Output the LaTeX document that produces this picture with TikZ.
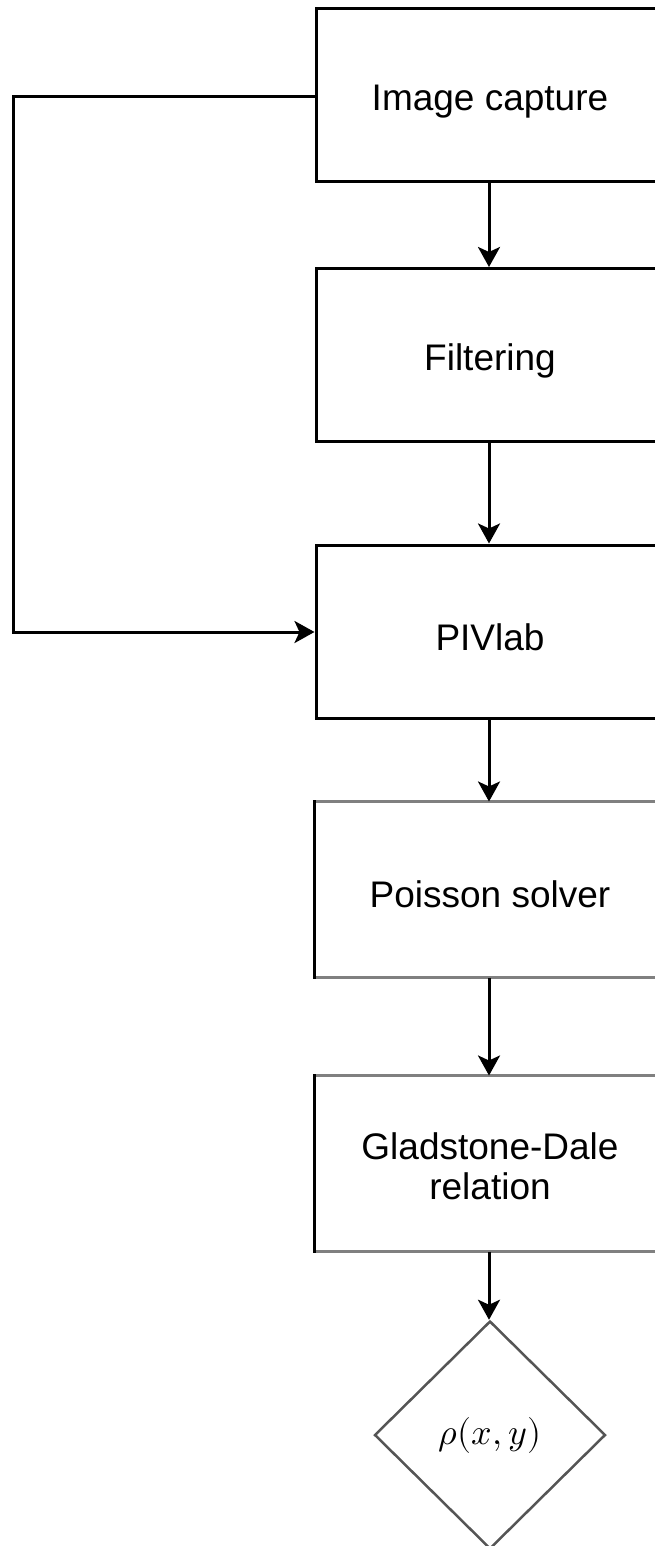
\documentclass[tikz,border=0pt]{standalone}
\usepackage{fontspec}
\usepackage{unicode-math}
\setmainfont{Liberation Sans}
\setmathfont{Latin Modern Math}
\usetikzlibrary{arrows.meta,shapes.geometric}
\definecolor{edgegray}{HTML}{808080}
\definecolor{diagray}{HTML}{555555}
\tikzset{
  stepbox/.style={draw=black,line width=3pt,rectangle,minimum width=348pt,minimum height=173pt,inner sep=0pt,align=center,font=\fontsize{37}{40}\selectfont,text depth=0pt},
  graybox/.style={stepbox,draw=none},
  lbl/.style={inner sep=0pt,align=center,font=\fontsize{37}{40}\selectfont},
  conn/.style={line width=3pt,-{Stealth[length=20pt,width=22pt,inset=5pt]}},
}
\begin{document}
\begin{tikzpicture}[x=1pt,y=-1pt]
\useasboundingbox (0,0) rectangle (655,1546);
\clip (0,0) rectangle (655,1546);
\node[stepbox] (cap) at (490,95.5) {};
\node[stepbox] (filt) at (490,355) {};
\node[stepbox] (piv) at (490,631.5) {};
\node[graybox] (poi) at (490,889.5) {};
\node[graybox] (gd) at (490,1163.5) {};
\node[lbl] (capt) at ([yshift=-6pt]cap.center) {Image capture};
\node[lbl] (filtt) at ([yshift=-6pt]filt.center) {Filtering};
\node[lbl] (pivt) at ([yshift=-6pt]piv.center) {PIVlab};
\node[lbl] (poit) at ([yshift=-5pt]poi.center) {Poisson solver};
\node[lbl] (gdt) at ([yshift=-3pt]gd.center) {Gladstone-Dale\\relation};
% partial-gray boxes
\draw[edgegray,line width=3pt] (poi.north west) -- (poi.north east);
\draw[edgegray,line width=3pt] (poi.south west) -- (poi.south east);
\draw[black,line width=3pt] ([yshift=1.5pt]poi.north west) -- ([yshift=-1.5pt]poi.south west);
\draw[edgegray,line width=3pt] (gd.north west) -- (gd.north east);
\draw[edgegray,line width=3pt] (gd.south west) -- (gd.south east);
\draw[black,line width=3pt] ([yshift=1.5pt]gd.north west) -- ([yshift=-1.5pt]gd.south west);
\node[draw=diagray,line width=2.5pt,diamond,minimum width=231pt,minimum height=228pt,inner sep=0pt] (rho) at (490,1435) {};
\node[inner sep=0pt,font=\fontsize{36}{40}\selectfont] (rhot) at (rho.center) {$\rho(x,y)$};
\draw[conn] (cap.south -| 489,0) -- (filt.north -| 489,0);
\draw[conn] (filt.south -| 489,0) -- (piv.north -| 489,0);
\draw[conn] (piv.south -| 489,0) -- (poi.north -| 489,0);
\draw[conn] (poi.south -| 489,0) -- (gd.north -| 489,0);
\draw[conn] (gd.south -| 489,0) -- (rho.north -| 489,0);
\coordinate (lt) at (13,97);
\coordinate (lb) at (13,632);
\draw[conn] (cap.west |- lt) -- (lt) -- (lb) -- (piv.west |- lb);
\end{tikzpicture}
\end{document}
